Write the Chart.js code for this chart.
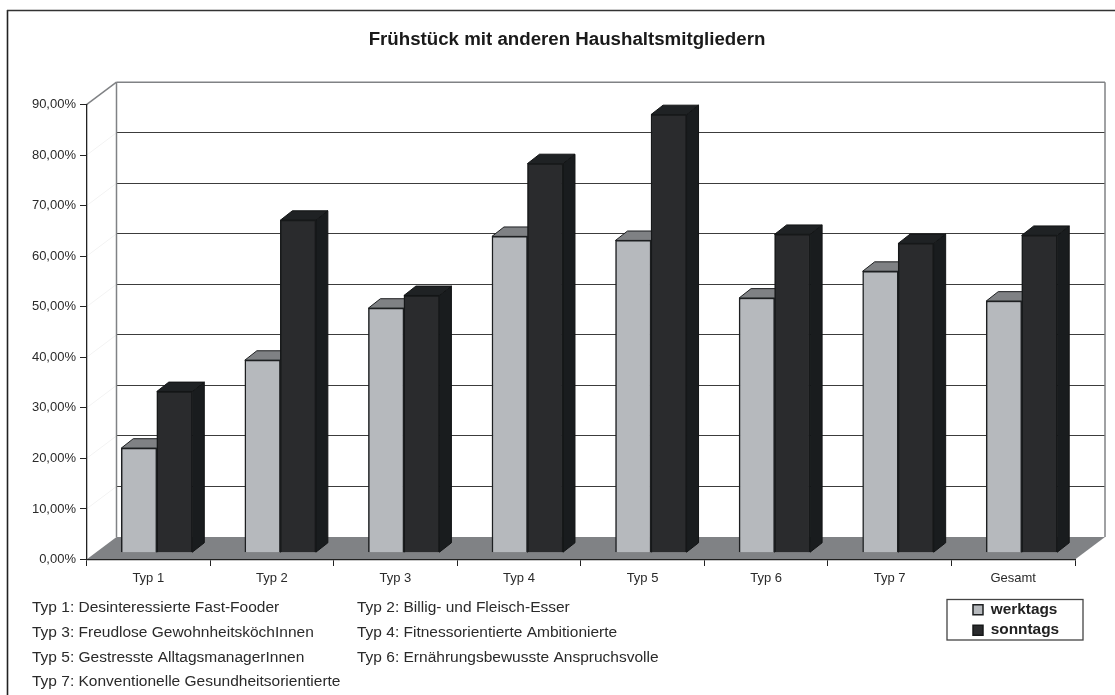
<!DOCTYPE html>
<html><head><meta charset="utf-8">
<style>html,body{margin:0;padding:0;background:#fff}canvas{display:block}#w{width:1115px;height:695px}</style>
<script src="https://cdn.jsdelivr.net/npm/chart.js@4"></script>
</head><body><div id="w"><canvas id="c" width="1115" height="695"></canvas></div>
<script>
const categories = ['Typ 1','Typ 2','Typ 3','Typ 4','Typ 5','Typ 6','Typ 7','Gesamt'];
const werktags = [20.7,38.1,48.4,62.6,61.8,50.4,55.7,49.8];
const sonntags = [31.9,65.8,50.9,77.0,86.7,63.0,61.2,62.8];
const yTicks = [0,10,20,30,40,50,60,70,80,90];
const chartTitle = 'Frühstück mit anderen Haushaltsmitgliedern';
const notes = [
 ['Typ 1: Desinteressierte Fast-Fooder','Typ 2: Billig- und Fleisch-Esser'],
 ['Typ 3: Freudlose GewohnheitsköchInnen','Typ 4: Fitnessorientierte Ambitionierte'],
 ['Typ 5: Gestresste AlltagsmanagerInnen','Typ 6: Ernährungsbewusste Anspruchsvolle'],
 ['Typ 7: Konventionelle Gesundheitsorientierte','']
];
const TXT='#2a2a2a', FONT='"Liberation Sans", Arial, sans-serif';
const DX=30, DY=-22.5;            // full floor depth
const FX=8.5, FY=-6.8;            // bar front offset inside the floor
const BX=12, BY=-9.4;             // bar depth
function poly(ctx,pts,fill,stroke,lw){
  ctx.beginPath();pts.forEach((p,i)=>i?ctx.lineTo(p[0],p[1]):ctx.moveTo(p[0],p[1]));ctx.closePath();
  if(fill){ctx.fillStyle=fill;ctx.fill();}
  if(stroke){ctx.strokeStyle=stroke;ctx.lineWidth=lw||1;ctx.stroke();}
}
function line(ctx,x1,y1,x2,y2,c,lw){ctx.beginPath();ctx.moveTo(x1,y1);ctx.lineTo(x2,y2);ctx.strokeStyle=c;ctx.lineWidth=lw;ctx.stroke();}
const depth3d={
  id:'depth3d',
  beforeLayout(chart){
    const l=chart.legend; if(!l||l._patched) return;
    const fit=l.fit;
    l.fit=function(){fit.call(this);this.width=0;};   // legend takes no layout room
    l._patched=true;
  },
  afterLayout(chart){
    const l=chart.legend;
    if(l){l.left=968;l.right=1083;l.top=597;l.bottom=643;l.width=115;l.height=46;}
    const t=chart.titleBlock;
    if(t){t.left=19;t.right=1115;}
  },
  beforeDraw(chart){
    const c=chart.ctx,{left:L,right:R}=chart.chartArea,y=chart.scales.y;
    c.save();
    line(c,7.5,10,7.5,695,'#222',1.6);
    line(c,7,10.5,1115,10.5,'#333',1.6);
    const top=y.getPixelForValue(yTicks[yTicks.length-1]),bot=y.getPixelForValue(0);
    poly(c,[[L,bot],[L+DX,bot+DY],[R+DX,bot+DY],[R,bot]],'#808285');
    yTicks.slice(1,-1).forEach(v=>{const p=y.getPixelForValue(v);line(c,L,p,L+DX,p+DY,'#f3f3f3',1);});
    yTicks.slice(1,-1).forEach(v=>{const p=Math.round(y.getPixelForValue(v)+DY-.6)+.5;line(c,L+DX,p,R+DX,p,'#3c3c3c',1.1);});
    line(c,L,top,L+DX,top+DY,'#808285',1.5);
    line(c,L+DX,top+DY,R+DX,top+DY,'#808285',1.5);
    line(c,L+DX,top+DY,L+DX,bot+DY,'#808285',1.5);
    line(c,R+DX,top+DY,R+DX,bot+DY,'#808285',1.5);
    c.restore();
  },
  beforeDatasetsDraw(chart){
    const c=chart.ctx;
    c.save();
    c.translate(FX,FY);
    const style=[{top:'#7f8184',side:'#7f8184',line:'#1d1f21'},{top:'#1f2224',side:'#191c1e',line:'#121415'}];
    chart.data.datasets.forEach((d,i)=>{
      chart.getDatasetMeta(i).data.forEach(b=>{
        const x0=b.x-b.width/2,x1=b.x+b.width/2,t=b.y,base=b.base,s=style[i];
        poly(c,[[x1,t],[x1+BX,t+BY],[x1+BX,base+BY],[x1,base]],s.side,s.line,1);
        poly(c,[[x0,t],[x0+BX,t+BY],[x1+BX,t+BY],[x1,t]],s.top,s.line,1);
      });
    });
  },
  afterDatasetsDraw(chart){
    chart.ctx.restore();
  },
  afterDraw(chart){
    const c=chart.ctx;
    c.save();
    c.strokeStyle='#444';c.lineWidth=1.3;c.strokeRect(947,599.5,136,40.5);
    c.fillStyle=TXT;c.font='15.5px '+FONT;c.textBaseline='middle';c.textAlign='left';
    const ys=[608,632.5,657.5,681.5],xs=[32,357];
    notes.forEach((r,i)=>r.forEach((t,j)=>{if(t)c.fillText(t,xs[j],ys[i]);}));
    c.restore();
  }
};
new Chart(document.getElementById('c'),{
  type:'bar',
  plugins:[depth3d],
  data:{labels:categories,datasets:[
    {label:'werktags',data:werktags,backgroundColor:'#b6b9bd',borderColor:'#1d1f21',borderWidth:1.5},
    {label:'sonntags',data:sonntags,backgroundColor:'#2a2b2d',borderColor:'#161819',borderWidth:1.5}
  ]},
  options:{
    responsive:false,animation:false,
    layout:{padding:{left:0,top:0,right:40,bottom:95}},
    datasets:{bar:{barThickness:35.5}},
    plugins:{
      title:{display:true,text:chartTitle,color:'#1a1a1a',font:{family:FONT,size:18.7,weight:'bold',lineHeight:1.2},padding:{top:28.8,bottom:53.46}},
      legend:{display:true,position:'right',
        labels:{font:{family:FONT,size:15.4,weight:'bold'},color:'#222',boxWidth:10,boxHeight:10,padding:5,borderWidth:1}
      },
      tooltip:{enabled:false}
    },
    scales:{
      x:{grid:{drawOnChartArea:false,drawTicks:true,tickLength:6.5,color:'#222'},border:{color:'#222',width:1.3},
         ticks:{color:TXT,font:{family:FONT,size:13},padding:5,maxRotation:0,autoSkip:false},
         afterFit(s){s.height=40.5;}},
      y:{min:0,max:90,grid:{drawOnChartArea:false,drawTicks:true,tickLength:6.5,color:'#222'},border:{color:'#222',width:1.3},
         ticks:{stepSize:10,color:TXT,font:{family:FONT,size:13},padding:4,
           callback:v=>v.toFixed(2).replace('.',',')+'%'},
         afterFit(s){s.width=86.5;}}
    }
  }
});
</script></body></html>
